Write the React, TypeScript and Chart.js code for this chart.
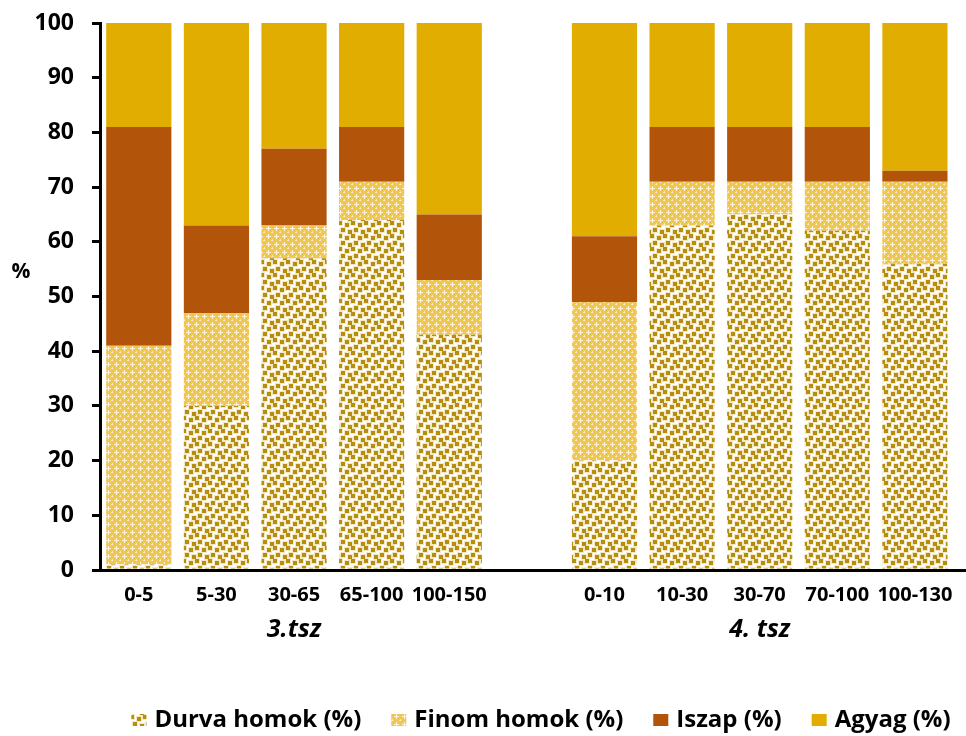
import React, { useEffect, useRef } from "react";
import { Chart, registerables } from "chart.js";
Chart.register(...registerables);

const categories = ["0-5", "5-30", "30-65", "65-100", "100-150", "", "0-10", "10-30", "30-70", "70-100", "100-130"];
const groupNames = ["3.tsz", "4. tsz"];
const groupCenterIndex = [2, 8];
const seriesNames = ["Durva homok (%)", "Finom homok (%)", "Iszap (%)", "Agyag (%)"];
const durva = [1, 30, 57, 64, 43, null, 20, 63, 65, 62, 56];
const finom = [40, 17, 6, 7, 10, null, 29, 8, 6, 9, 15];
const iszap = [40, 16, 14, 10, 12, null, 12, 10, 10, 10, 2];
const agyag = [19, 37, 23, 19, 35, null, 39, 19, 19, 19, 27];
const yMin = 0;
const yMax = 100;
const yStep = 10;

const FONT = "'Open Sans', Lato, sans-serif";

function makeDots(ctx: CanvasRenderingContext2D) {
  const s = 13;
  const c = document.createElement("canvas");
  c.width = s;
  c.height = s;
  const g = c.getContext("2d")!;
  g.fillStyle = "#ffffff";
  g.fillRect(0, 0, s, s);
  const pts = [[0, 0], [7, 2], [3, 7], [10, 9]];
  const put = (x: number, y: number, w: number) => {
    for (const dx of [-s, 0, s]) for (const dy of [-s, 0, s]) g.fillRect(x + dx, y + dy, w, w);
  };
  g.fillStyle = "#F2E8C6";
  for (const [x, y] of pts) put(x - 1, y - 1, 6);
  g.fillStyle = "#B58E10";
  for (const [x, y] of pts) put(x, y, 4);
  return ctx.createPattern(c, "repeat")!;
}

function makeCross(ctx: CanvasRenderingContext2D) {
  const c = document.createElement("canvas");
  c.width = 8;
  c.height = 8;
  const g = c.getContext("2d")!;
  g.fillStyle = "#F0C752";
  g.fillRect(0, 0, 8, 8);
  g.fillStyle = "#FFF6DC";
  g.fillRect(2, 4, 5, 1);
  g.fillRect(4, 2, 1, 5);
  g.fillRect(0, 0, 1, 1);
  g.fillStyle = "#FAE3A0";
  g.fillRect(7, 0, 2, 1);
  g.fillRect(0, 7, 1, 1);
  return ctx.createPattern(c, "repeat")!;
}

const overlay = {
  id: "overlay",
  afterDraw(chart: any) {
    const { ctx, chartArea, scales } = chart;
    ctx.save();
    ctx.strokeStyle = "#000";
    ctx.lineWidth = 3;
    ctx.beginPath();
    ctx.moveTo(chartArea.right - 2, chartArea.bottom + 0.5);
    ctx.lineTo(966, chartArea.bottom + 0.5);
    ctx.stroke();
    ctx.fillStyle = "#000";
    ctx.font = `bold 21px ${FONT}`;
    ctx.textAlign = "center";
    ctx.textBaseline = "middle";
    ctx.fillText("%", 21, 272);
    ctx.font = `italic bold 25px ${FONT}`;
    groupNames.forEach((name, i) => {
      const x = scales.x.getPixelForValue(groupCenterIndex[i]);
      ctx.fillText(name, x, 630);
    });
    ctx.font = `bold 24px ${FONT}`;
    ctx.textAlign = "left";
    const box = 15, gapText = 8, gapItem = 30;
    const widths = seriesNames.map((n) => ctx.measureText(n).width);
    const total = widths.reduce((a, w) => a + box + gapText + w, 0) + gapItem * (seriesNames.length - 1);
    let x = 541 - total / 2;
    const cy = 720;
    seriesNames.forEach((n, i) => {
      ctx.fillStyle = chart.data.datasets[i].backgroundColor;
      ctx.fillRect(x, cy - 6, box, 12);
      ctx.fillStyle = "#000";
      ctx.fillText(n, x + box + gapText, cy);
      x += box + gapText + widths[i] + gapItem;
    });
    ctx.restore();
  },
};

export default function App() {
  const ref = useRef<HTMLCanvasElement>(null);
  useEffect(() => {
    document.body.style.margin = "0";
    const canvas = ref.current!;
    const ctx = canvas.getContext("2d")!;
    const dots = makeDots(ctx);
    const cross = makeCross(ctx);
    const colors = [dots, cross, "#B3540B", "#E1AD01"];
    const data = [durva, finom, iszap, agyag];
    const chart = new Chart(canvas, {
      type: "bar",
      data: {
        labels: categories,
        datasets: seriesNames.map((n, i) => ({
          label: n,
          data: data[i],
          backgroundColor: colors[i] as any,
          borderWidth: 0,
          categoryPercentage: 1,
          barPercentage: 0.84,
        })),
      },
      options: {
        responsive: false,
        animation: false,
        devicePixelRatio: 1,
        layout: { padding: { top: 23, right: 12, left: 0, bottom: 62 } },
        plugins: {
          tooltip: { enabled: false },
          legend: { display: false },
        },
        scales: {
          x: {
            stacked: true,
            grid: { display: false, drawTicks: false },
            border: { color: "#000", width: 3 },
            ticks: {
              font: { family: FONT, size: 20, weight: "bold" },
              color: "#000",
              padding: 13,
              maxRotation: 0,
              autoSkip: false,
            },
            afterFit(scale: any) {
              scale.height = 104;
            },
          },
          y: {
            stacked: true,
            min: yMin,
            max: yMax,
            grid: { drawOnChartArea: false, drawTicks: true, tickLength: 8, color: "#000", lineWidth: 3 },
            border: { color: "#000", width: 3 },
            ticks: {
              stepSize: yStep,
              font: { family: FONT, size: 23, weight: "bold" },
              color: "#000",
              padding: 18,
            },
            afterFit(scale: any) {
              scale.width = 100;
              scale.paddingTop = 0;
              scale.paddingBottom = 0;
            },
          },
        },
      },
      plugins: [overlay],
    });
    return () => chart.destroy();
  }, []);
  return <canvas ref={ref} width={966} height={736} style={{ display: "block" }} />;
}
